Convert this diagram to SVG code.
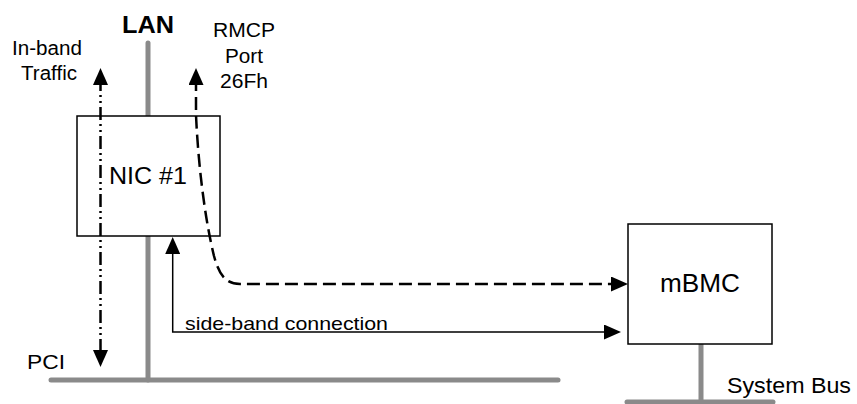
<svg xmlns="http://www.w3.org/2000/svg" width="857" height="404" viewBox="0 0 857 404">
<style>
text{font-family:"Liberation Sans",Arial,sans-serif;fill:#000}
.bus{stroke:#8a8a8a;stroke-width:5;stroke-linecap:round;fill:none}
.box{fill:#fff;stroke:#000;stroke-width:1.5}
.conn{fill:none;stroke:#000}
</style>
<defs>
<marker id="ah" markerUnits="userSpaceOnUse" markerWidth="17" markerHeight="15" refX="7" refY="7.5" orient="auto-start-reverse" viewBox="0 0 17 15">
<path d="M0,0 L17,7.5 L0,15 z" fill="#000"/>
</marker>
</defs>
<rect width="857" height="404" fill="#fff"/>
<g id="buses">
<line class="bus" x1="148" y1="43" x2="148" y2="380"/>
<line class="bus" x1="51" y1="380" x2="558" y2="380"/>
<line class="bus" x1="701" y1="344" x2="701" y2="402"/>
<line class="bus" x1="627" y1="402" x2="773" y2="402"/>
</g>
<g id="nic1">
<rect class="box" x="77" y="116" width="143" height="120"/>
<text x="109" y="184" font-size="24" textLength="78" lengthAdjust="spacingAndGlyphs">NIC #1</text>
</g>
<g id="mbmc">
<rect class="box" x="628" y="224" width="144" height="120"/>
<text x="660" y="292" font-size="25" textLength="80" lengthAdjust="spacingAndGlyphs">mBMC</text>
</g>
<g id="labels">
<text x="122" y="33" font-size="24" font-weight="bold" textLength="52" lengthAdjust="spacingAndGlyphs">LAN</text>
<text x="12" y="55" font-size="20" textLength="70" lengthAdjust="spacingAndGlyphs">In-band</text>
<text x="21" y="80" font-size="20" textLength="56" lengthAdjust="spacingAndGlyphs">Traffic</text>
<text x="213" y="37" font-size="20" textLength="62" lengthAdjust="spacingAndGlyphs">RMCP</text>
<text x="225" y="63" font-size="20" textLength="38" lengthAdjust="spacingAndGlyphs">Port</text>
<text x="220" y="88" font-size="20" textLength="48" lengthAdjust="spacingAndGlyphs">26Fh</text>
<text x="27" y="369" font-size="21" textLength="38" lengthAdjust="spacingAndGlyphs">PCI</text>
<text x="727" y="393" font-size="22" textLength="124" lengthAdjust="spacingAndGlyphs">System Bus</text>
<text x="185" y="330" font-size="19" textLength="203" lengthAdjust="spacingAndGlyphs">side-band connection</text>
</g>
<g id="connectors">
<path class="conn" d="M100.5,78 L100.5,357" stroke-width="2.5" stroke-dasharray="13 4 2 4 2 4" marker-start="url(#ah)" marker-end="url(#ah)"/>
<path class="conn" d="M196,78 L196,115 C198,160 204,215 214,256 C219,274 225,284 240,284 L618,284" stroke-width="2.5" stroke-dasharray="13 6" marker-start="url(#ah)" marker-end="url(#ah)"/>
<path class="conn" d="M172.7,247 L172.7,332 L611,332" stroke-width="1.5" marker-start="url(#ah)" marker-end="url(#ah)"/>
</g>
</svg>
